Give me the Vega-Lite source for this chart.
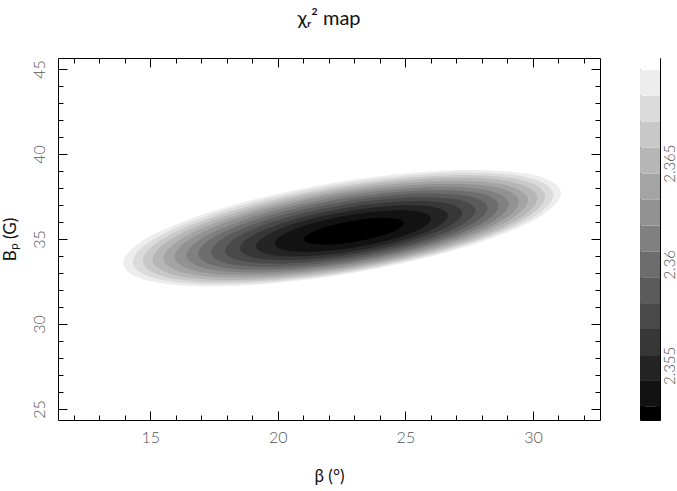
{
  "$schema": "https://vega.github.io/schema/vega-lite/v6.json",
  "background": "white",
  "padding": {"left": 0, "top": 8, "right": 5, "bottom": 5},
  "config": {
    "font": "Lato",
    "view": {"stroke": "black", "strokeWidth": 1},
    "axis": {"domain": false, "grid": false, "tickColor": "black", "tickWidth": 1, "labelFont": "Lato", "labelFontSize": 16, "labelColor": "#555", "labelFontWeight": 300, "titleFont": "Lato", "titleFontWeight": 400, "titleFontSize": 17, "titleColor": "#111"},
    "title": {"font": "Lato", "fontSize": 20, "fontWeight": 400, "color": "#111", "offset": 29}
  },
  "datasets": {
    "contours": [
      {"k":14,"i":0,"beta":31.10,"bp":37.69},{"k":14,"i":1,"beta":29.95,"bp":36.04},{"k":14,"i":2,"beta":26.81,"bp":34.29},{"k":14,"i":3,"beta":22.52,"bp":32.89},{"k":14,"i":4,"beta":18.23,"bp":32.23},{"k":14,"i":5,"beta":15.09,"bp":32.49},{"k":14,"i":6,"beta":13.94,"bp":33.58},{"k":14,"i":7,"beta":15.09,"bp":35.23},{"k":14,"i":8,"beta":18.23,"bp":36.99},{"k":14,"i":9,"beta":22.52,"bp":38.38},{"k":14,"i":10,"beta":26.81,"bp":39.04},{"k":14,"i":11,"beta":29.95,"bp":38.79},
      {"k":13,"i":0,"beta":30.80,"bp":37.60},{"k":13,"i":1,"beta":29.70,"bp":36.01},{"k":13,"i":2,"beta":26.68,"bp":34.33},{"k":13,"i":3,"beta":22.56,"bp":32.99},{"k":13,"i":4,"beta":18.43,"bp":32.35},{"k":13,"i":5,"beta":15.42,"bp":32.60},{"k":13,"i":6,"beta":14.31,"bp":33.65},{"k":13,"i":7,"beta":15.42,"bp":35.23},{"k":13,"i":8,"beta":18.43,"bp":36.92},{"k":13,"i":9,"beta":22.56,"bp":38.26},{"k":13,"i":10,"beta":26.68,"bp":38.90},{"k":13,"i":11,"beta":29.70,"bp":38.65},
      {"k":12,"i":0,"beta":30.48,"bp":37.50},{"k":12,"i":1,"beta":29.43,"bp":35.98},{"k":12,"i":2,"beta":26.54,"bp":34.37},{"k":12,"i":3,"beta":22.59,"bp":33.08},{"k":12,"i":4,"beta":18.65,"bp":32.48},{"k":12,"i":5,"beta":15.76,"bp":32.71},{"k":12,"i":6,"beta":14.70,"bp":33.72},{"k":12,"i":7,"beta":15.76,"bp":35.24},{"k":12,"i":8,"beta":18.65,"bp":36.85},{"k":12,"i":9,"beta":22.59,"bp":38.13},{"k":12,"i":10,"beta":26.54,"bp":38.74},{"k":12,"i":11,"beta":29.43,"bp":38.51},
      {"k":11,"i":0,"beta":30.17,"bp":37.40},{"k":11,"i":1,"beta":29.16,"bp":35.95},{"k":11,"i":2,"beta":26.40,"bp":34.41},{"k":11,"i":3,"beta":22.63,"bp":33.18},{"k":11,"i":4,"beta":18.86,"bp":32.60},{"k":11,"i":5,"beta":16.10,"bp":32.83},{"k":11,"i":6,"beta":15.09,"bp":33.79},{"k":11,"i":7,"beta":16.10,"bp":35.24},{"k":11,"i":8,"beta":18.86,"bp":36.78},{"k":11,"i":9,"beta":22.63,"bp":38.01},{"k":11,"i":10,"beta":26.40,"bp":38.59},{"k":11,"i":11,"beta":29.16,"bp":38.36},
      {"k":10,"i":0,"beta":29.81,"bp":37.29},{"k":10,"i":1,"beta":28.85,"bp":35.92},{"k":10,"i":2,"beta":26.24,"bp":34.45},{"k":10,"i":3,"beta":22.66,"bp":33.29},{"k":10,"i":4,"beta":19.09,"bp":32.74},{"k":10,"i":5,"beta":16.47,"bp":32.95},{"k":10,"i":6,"beta":15.52,"bp":33.87},{"k":10,"i":7,"beta":16.47,"bp":35.24},{"k":10,"i":8,"beta":19.09,"bp":36.70},{"k":10,"i":9,"beta":22.66,"bp":37.87},{"k":10,"i":10,"beta":26.24,"bp":38.41},{"k":10,"i":11,"beta":28.85,"bp":38.20},
      {"k":9,"i":0,"beta":29.45,"bp":37.18},{"k":9,"i":1,"beta":28.55,"bp":35.89},{"k":9,"i":2,"beta":26.08,"bp":34.50},{"k":9,"i":3,"beta":22.70,"bp":33.40},{"k":9,"i":4,"beta":19.32,"bp":32.89},{"k":9,"i":5,"beta":16.85,"bp":33.09},{"k":9,"i":6,"beta":15.95,"bp":33.95},{"k":9,"i":7,"beta":16.85,"bp":35.25},{"k":9,"i":8,"beta":19.32,"bp":36.63},{"k":9,"i":9,"beta":22.70,"bp":37.73},{"k":9,"i":10,"beta":26.08,"bp":38.24},{"k":9,"i":11,"beta":28.55,"bp":38.05},
      {"k":8,"i":0,"beta":29.05,"bp":37.06},{"k":8,"i":1,"beta":28.21,"bp":35.85},{"k":8,"i":2,"beta":25.89,"bp":34.56},{"k":8,"i":3,"beta":22.73,"bp":33.53},{"k":8,"i":4,"beta":19.57,"bp":33.04},{"k":8,"i":5,"beta":17.26,"bp":33.23},{"k":8,"i":6,"beta":16.41,"bp":34.04},{"k":8,"i":7,"beta":17.26,"bp":35.25},{"k":8,"i":8,"beta":19.57,"bp":36.55},{"k":8,"i":9,"beta":22.73,"bp":37.57},{"k":8,"i":10,"beta":25.89,"bp":38.06},{"k":8,"i":11,"beta":28.21,"bp":37.87},
      {"k":7,"i":0,"beta":28.66,"bp":36.95},{"k":7,"i":1,"beta":27.87,"bp":35.81},{"k":7,"i":2,"beta":25.71,"bp":34.61},{"k":7,"i":3,"beta":22.77,"bp":33.65},{"k":7,"i":4,"beta":19.82,"bp":33.20},{"k":7,"i":5,"beta":17.67,"bp":33.37},{"k":7,"i":6,"beta":16.88,"bp":34.13},{"k":7,"i":7,"beta":17.67,"bp":35.26},{"k":7,"i":8,"beta":19.82,"bp":36.46},{"k":7,"i":9,"beta":22.77,"bp":37.42},{"k":7,"i":10,"beta":25.71,"bp":37.87},{"k":7,"i":11,"beta":27.87,"bp":37.70},
      {"k":6,"i":0,"beta":28.22,"bp":36.82},{"k":6,"i":1,"beta":27.50,"bp":35.78},{"k":6,"i":2,"beta":25.51,"bp":34.67},{"k":6,"i":3,"beta":22.80,"bp":33.79},{"k":6,"i":4,"beta":20.10,"bp":33.37},{"k":6,"i":5,"beta":18.11,"bp":33.53},{"k":6,"i":6,"beta":17.39,"bp":34.22},{"k":6,"i":7,"beta":18.11,"bp":35.26},{"k":6,"i":8,"beta":20.10,"bp":36.37},{"k":6,"i":9,"beta":22.80,"bp":37.25},{"k":6,"i":10,"beta":25.51,"bp":37.67},{"k":6,"i":11,"beta":27.50,"bp":37.51},
      {"k":5,"i":0,"beta":27.75,"bp":36.68},{"k":5,"i":1,"beta":27.09,"bp":35.74},{"k":5,"i":2,"beta":25.29,"bp":34.73},{"k":5,"i":3,"beta":22.84,"bp":33.94},{"k":5,"i":4,"beta":20.39,"bp":33.56},{"k":5,"i":5,"beta":18.59,"bp":33.70},{"k":5,"i":6,"beta":17.93,"bp":34.33},{"k":5,"i":7,"beta":18.59,"bp":35.27},{"k":5,"i":8,"beta":20.39,"bp":36.28},{"k":5,"i":9,"beta":22.84,"bp":37.08},{"k":5,"i":10,"beta":25.29,"bp":37.45},{"k":5,"i":11,"beta":27.09,"bp":37.31},
      {"k":4,"i":0,"beta":27.23,"bp":36.53},{"k":4,"i":1,"beta":26.65,"bp":35.70},{"k":4,"i":2,"beta":25.05,"bp":34.81},{"k":4,"i":3,"beta":22.87,"bp":34.10},{"k":4,"i":4,"beta":20.70,"bp":33.76},{"k":4,"i":5,"beta":19.10,"bp":33.89},{"k":4,"i":6,"beta":18.52,"bp":34.45},{"k":4,"i":7,"beta":19.10,"bp":35.29},{"k":4,"i":8,"beta":20.70,"bp":36.18},{"k":4,"i":9,"beta":22.87,"bp":36.89},{"k":4,"i":10,"beta":25.05,"bp":37.22},{"k":4,"i":11,"beta":26.65,"bp":37.09},
      {"k":3,"i":0,"beta":26.68,"bp":36.38},{"k":3,"i":1,"beta":26.17,"bp":35.65},{"k":3,"i":2,"beta":24.79,"bp":34.88},{"k":3,"i":3,"beta":22.91,"bp":34.27},{"k":3,"i":4,"beta":21.02,"bp":33.98},{"k":3,"i":5,"beta":19.65,"bp":34.09},{"k":3,"i":6,"beta":19.14,"bp":34.57},{"k":3,"i":7,"beta":19.65,"bp":35.30},{"k":3,"i":8,"beta":21.02,"bp":36.07},{"k":3,"i":9,"beta":22.91,"bp":36.68},{"k":3,"i":10,"beta":24.79,"bp":36.97},{"k":3,"i":11,"beta":26.17,"bp":36.86},
      {"k":2,"i":0,"beta":26.01,"bp":36.20},{"k":2,"i":1,"beta":25.60,"bp":35.61},{"k":2,"i":2,"beta":24.48,"bp":34.98},{"k":2,"i":3,"beta":22.95,"bp":34.48},{"k":2,"i":4,"beta":21.41,"bp":34.25},{"k":2,"i":5,"beta":20.29,"bp":34.34},{"k":2,"i":6,"beta":19.88,"bp":34.73},{"k":2,"i":7,"beta":20.29,"bp":35.32},{"k":2,"i":8,"beta":21.41,"bp":35.94},{"k":2,"i":9,"beta":22.95,"bp":36.44},{"k":2,"i":10,"beta":24.48,"bp":36.68},{"k":2,"i":11,"beta":25.60,"bp":36.59},
      {"k":1,"i":0,"beta":24.94,"bp":35.92},{"k":1,"i":1,"beta":24.68,"bp":35.54},{"k":1,"i":2,"beta":23.96,"bp":35.14},{"k":1,"i":3,"beta":22.98,"bp":34.82},{"k":1,"i":4,"beta":22.00,"bp":34.67},{"k":1,"i":5,"beta":21.28,"bp":34.73},{"k":1,"i":6,"beta":21.02,"bp":34.98},{"k":1,"i":7,"beta":21.28,"bp":35.35},{"k":1,"i":8,"beta":22.00,"bp":35.76},{"k":1,"i":9,"beta":22.98,"bp":36.08},{"k":1,"i":10,"beta":23.96,"bp":36.23},{"k":1,"i":11,"beta":24.68,"bp":36.17}
    ],
    "bands": [
      {"k":1,"lo":2.3523,"hi":2.35295},{"k":2,"lo":2.35295,"hi":2.35423},{"k":3,"lo":2.35423,"hi":2.35551},{"k":4,"lo":2.35551,"hi":2.3568},{"k":5,"lo":2.3568,"hi":2.35808},{"k":6,"lo":2.35808,"hi":2.35936},{"k":7,"lo":2.35936,"hi":2.36064},{"k":8,"lo":2.36064,"hi":2.36192},{"k":9,"lo":2.36192,"hi":2.36321},{"k":10,"lo":2.36321,"hi":2.36449},{"k":11,"lo":2.36449,"hi":2.36577},{"k":12,"lo":2.36577,"hi":2.36705},{"k":13,"lo":2.36705,"hi":2.36833},{"k":14,"lo":2.36833,"hi":2.36962},{"k":15,"lo":2.36962,"hi":2.3702}
    ]
  },
  "spacing": 38,
  "hconcat": [
    {
      "width": 542,
      "height": 362,
      "title": {"text": "χᵣ²  map"},
      "data": {"name": "contours"},
      "layer": [
        {
          "mark": {"type": "line", "filled": true, "interpolate": "cardinal-closed"},
          "encoding": {
            "x": {"field": "beta", "type": "quantitative", "scale": {"domain": [11.38, 32.63], "nice": false, "zero": false},
              "axis": {"orient": "bottom", "title": "β (°)", "titlePadding": 23, "values": [12,13,14,15,16,17,18,19,20,21,22,23,24,25,26,27,28,29,30,31,32],
                "labelExpr": "datum.value % 5 === 0 ? datum.label : ''", "labelPadding": 18,
                "tickSize": {"condition": {"test": "datum.value % 5 === 0", "value": -9}, "value": -5}}},
            "y": {"field": "bp", "type": "quantitative", "scale": {"domain": [24.35, 45.65], "nice": false, "zero": false},
              "axis": {"orient": "left", "title": "Bₚ (G)", "titlePadding": 12, "labelAngle": -90, "values": [25,26,27,28,29,30,31,32,33,34,35,36,37,38,39,40,41,42,43,44,45],
                "labelExpr": "datum.value % 5 === 0 ? datum.label : ''", "labelPadding": 20,
                "tickSize": {"condition": {"test": "datum.value % 5 === 0", "value": -9}, "value": -5}}},
            "color": {"field": "k", "type": "ordinal", "legend": null,
              "scale": {"domain": [1,2,3,4,5,6,7,8,9,10,11,12,13,14,15], "range": ["#000000","#121212","#242424","#373737","#494949","#5b5b5b","#6d6d6d","#808080","#929292","#a4a4a4","#b6b6b6","#c8c8c8","#dbdbdb","#ededed","#ffffff"]}},
            "order": {"field": "i", "type": "quantitative"}
          }
        },
        {
          "mark": {"type": "point", "opacity": 0},
          "encoding": {
            "x": {"field": "beta", "type": "quantitative", "scale": {"domain": [11.38, 32.63], "nice": false, "zero": false},
              "axis": {"orient": "top", "title": null, "labels": false, "values": [12,13,14,15,16,17,18,19,20,21,22,23,24,25,26,27,28,29,30,31,32],
                "tickSize": {"condition": {"test": "datum.value % 5 === 0", "value": -9}, "value": -5}}},
            "y": {"field": "bp", "type": "quantitative", "scale": {"domain": [24.35, 45.65], "nice": false, "zero": false},
              "axis": {"orient": "right", "title": null, "labels": false, "values": [25,26,27,28,29,30,31,32,33,34,35,36,37,38,39,40,41,42,43,44,45],
                "tickSize": {"condition": {"test": "datum.value % 5 === 0", "value": -9}, "value": -5}}}
          }
        }
      ],
      "resolve": {"axis": {"x": "independent", "y": "independent"}}
    },
    {
      "width": 20,
      "height": 362,
      "title": {"text": " "},
      "data": {"name": "bands"},
      "layer": [
        {
          "mark": {"type": "rect"},
          "encoding": {
            "x": {"datum": 0, "type": "quantitative", "scale": {"domain": [0, 1], "nice": false, "zero": false}, "axis": null},
            "x2": {"datum": 1},
            "y": {"field": "lo", "type": "quantitative", "scale": {"domain": [2.3523, 2.3702], "nice": false, "zero": false},
              "axis": {"orient": "right", "title": null, "labelAngle": -90, "values": [2.353,2.354,2.355,2.356,2.357,2.358,2.359,2.36,2.361,2.362,2.363,2.364,2.365,2.366,2.367,2.368,2.369,2.37],
                "labelExpr": "(abs(datum.value-2.355)<1e-6 || abs(datum.value-2.36)<1e-6 || abs(datum.value-2.365)<1e-6) ? format(datum.value, '.4~f') : ''",
                "labelFontSize": 15, "labelPadding": 7, "tickSize": -5}},
            "y2": {"field": "hi"},
            "color": {"field": "k", "type": "ordinal", "legend": null,
              "scale": {"domain": [1,2,3,4,5,6,7,8,9,10,11,12,13,14,15], "range": ["#000000","#121212","#242424","#373737","#494949","#5b5b5b","#6d6d6d","#808080","#929292","#a4a4a4","#b6b6b6","#c8c8c8","#dbdbdb","#ededed","#ffffff"]}}
          }
        },
        {
          "mark": {"type": "point", "opacity": 0},
          "encoding": {
            "x": {"datum": 0.5, "type": "quantitative", "axis": null},
            "y": {"field": "lo", "type": "quantitative", "scale": {"domain": [2.3523, 2.3702], "nice": false, "zero": false},
              "axis": {"orient": "left", "title": null, "labels": false, "values": [2.353,2.354,2.355,2.356,2.357,2.358,2.359,2.36,2.361,2.362,2.363,2.364,2.365,2.366,2.367,2.368,2.369,2.37], "tickSize": -5}}
          }
        }
      ],
      "resolve": {"axis": {"y": "independent"}}
    }
  ]
}
